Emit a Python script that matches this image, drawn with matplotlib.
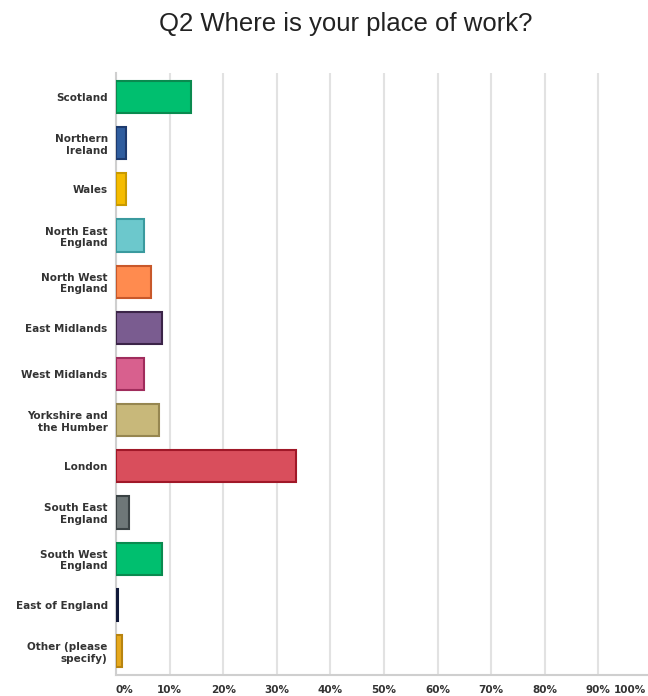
import matplotlib
matplotlib.use("Agg")
import matplotlib.pyplot as plt

# survey answers (percent)
regions = ["Scotland", "Northern\nIreland", "Wales", "North East\nEngland",
           "North West\nEngland", "East Midlands", "West Midlands",
           "Yorkshire and\nthe Humber", "London", "South East\nEngland",
           "South West\nEngland", "East of England", "Other (please\nspecify)"]
shares = [14.0, 1.9, 1.9, 5.2, 6.5, 8.6, 5.2, 8.0, 33.6, 2.5, 8.6, 0.4, 1.1]
fills = ["#00BF6F", "#2F5D9E", "#F5BC00", "#6CC8CC", "#FF8B4F", "#7A5C90",
         "#D8608E", "#C8B87A", "#D94E5C", "#6E7778", "#00BF6F", "#1E2A5A",
         "#E6A91E"]
edges = ["#0A8A4F", "#1D3A6E", "#C99A00", "#3A9A9E", "#C8582A", "#3B2448",
         "#A02C5C", "#968650", "#A01828", "#3A4244", "#0A8A4F", "#101838",
         "#B88410"]
ticks = [0, 10, 20, 30, 40, 50, 60, 70, 80, 90, 100]

fig = plt.figure(figsize=(6.48, 6.96), dpi=100)
ax = fig.add_axes([116 / 648, 1 - 675 / 696, 536 / 648, 602 / 696])

pos = list(range(len(regions)))
ax.barh(pos, shares, height=0.7, color=fills, edgecolor=edges, linewidth=1.5, zorder=3)

ax.set_xlim(0, 100)
ax.set_ylim(12.52, -0.52)
ax.set_yticks(pos)
ax.set_yticklabels(regions, fontsize=7.5, fontweight="bold", family="DejaVu Sans",
                   color="#333333", linespacing=1.2)
ax.set_xticks(ticks)
tick_txt = [f"{t}%" for t in ticks]
labs = ax.set_xticklabels(tick_txt[:-1] + [""], fontsize=7.5, fontweight="bold",
                          family="DejaVu Sans", color="#333333")
labs[0].set_ha("left")
# last label sits against the image edge, so place it by hand just inside
ax.annotate(tick_txt[-1], xy=(ticks[-1], 0), xycoords=("data", "axes fraction"),
            xytext=(-4, -11), textcoords="offset points", ha="right", va="center",
            fontsize=7.5, fontweight="bold", family="DejaVu Sans", color="#333333",
            annotation_clip=False)
ax.tick_params(axis="both", length=0)
ax.tick_params(axis="y", pad=6)
ax.tick_params(axis="x", pad=7)

ax.grid(axis="x", color="#E2E2E2", linewidth=1.5, zorder=0)
for s in ["top", "right"]:
    ax.spines[s].set_visible(False)
ax.spines["left"].set_color("#CFCFCF")
ax.spines["left"].set_linewidth(1.5)
ax.spines["bottom"].set_color("#CFCFCF")
ax.spines["bottom"].set_linewidth(1.5)

fig.text(346 / 648, 1 - 24 / 696, "Q2 Where is your place of work?", fontsize=18.5,
         family="Liberation Sans", ha="center", va="center", color="#222222")

fig.savefig("out.png", dpi=100)
